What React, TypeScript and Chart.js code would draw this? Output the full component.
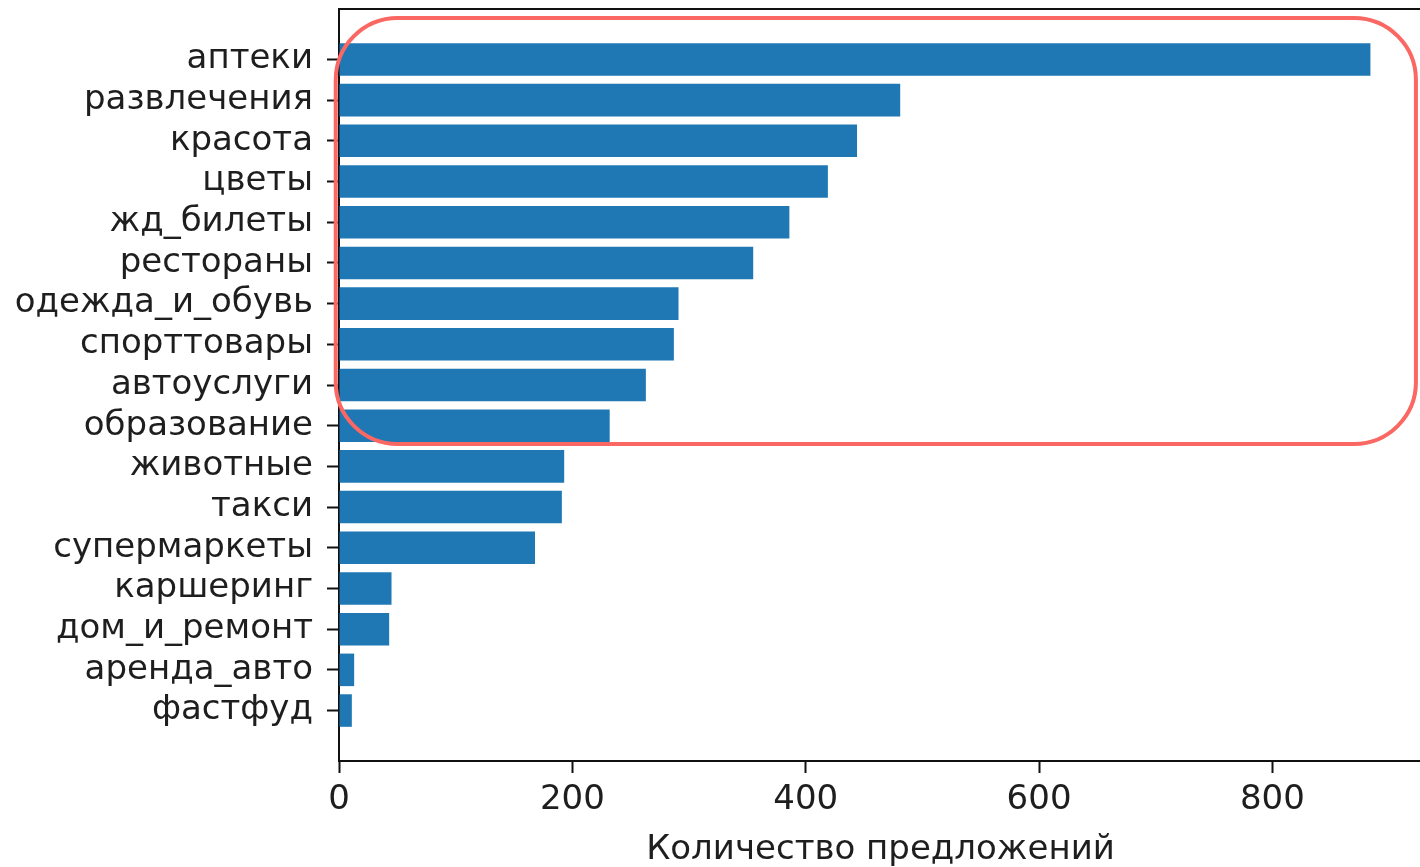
import React, { useEffect, useRef } from "react";
import { Chart, registerables } from "chart.js";

Chart.register(...registerables);

const categories: string[] = [
  "аптеки",
  "развлечения",
  "красота",
  "цветы",
  "жд_билеты",
  "рестораны",
  "одежда_и_обувь",
  "спорттовары",
  "автоуслуги",
  "образование",
  "животные",
  "такси",
  "супермаркеты",
  "каршеринг",
  "дом_и_ремонт",
  "аренда_авто",
  "фастфуд",
];

const counts: number[] = [884, 481, 444, 419, 386, 355, 291, 287, 263, 232, 193, 191, 168, 45, 43, 13, 11];

const xTicks: number[] = [0, 200, 400, 600, 800];
const xTitle = "Количество предложений";

// highlight box (in data units): x from..to, y index from..to
const highlightX: number[] = [-2.8, 923];
const highlightY: number[] = [-1.02, 9.45];

const FONT = "'DejaVu Sans', sans-serif";
const TEXT = "#1e1e1e";

export default function App() {
  const ref = useRef<HTMLCanvasElement | null>(null);

  useEffect(() => {
    const canvas = ref.current;
    if (!canvas) return;
    document.body.style.margin = "0";
    document.body.style.overflow = "hidden";

    const n = categories.length;
    const xMax = Math.max(...counts) * 1.05;
    const yPad = 0.05 * (n - 1 + 0.8);

    const framePlugin = {
      id: "frame",
      afterDatasetsDraw(chart: any) {
        const { ctx, chartArea } = chart;
        ctx.save();
        ctx.strokeStyle = "#111";
        ctx.lineWidth = 2;
        ctx.beginPath();
        ctx.moveTo(chartArea.left, chartArea.top);
        ctx.lineTo(chartArea.right, chartArea.top);
        ctx.lineTo(chartArea.right, chartArea.bottom);
        ctx.stroke();
        ctx.restore();
      },
      afterDraw(chart: any) {
        const { ctx } = chart;
        const xs = chart.scales.x;
        const ys = chart.scales.y;
        const x0 = xs.getPixelForValue(highlightX[0]);
        const x1 = xs.getPixelForValue(highlightX[1]);
        const y0 = ys.getPixelForValue(highlightY[0]);
        const y1 = ys.getPixelForValue(highlightY[1]);
        ctx.save();
        ctx.strokeStyle = "#fb6762";
        ctx.lineWidth = 4;
        ctx.beginPath();
        (ctx as any).roundRect(x0, y0, x1 - x0, y1 - y0, 62);
        ctx.stroke();
        ctx.restore();
      },
    };

    const chart = new Chart(canvas, {
      type: "bar",
      data: {
        datasets: [
          {
            data: counts.map((v, i) => ({ x: v, y: i })),
            backgroundColor: "#1f77b4",
            borderWidth: 0,
            barPercentage: 0.8,
            categoryPercentage: 1,
          },
        ],
      },
      options: {
        indexAxis: "y",
        responsive: false,
        animation: false,
        layout: { padding: { left: 0, top: 9, right: 18, bottom: 0 } },
        plugins: {
          legend: { display: false },
          tooltip: { enabled: false },
        },
        scales: {
          x: {
            type: "linear",
            min: 0,
            max: xMax,
            offset: false,
            afterBuildTicks: (s: any) => {
              s.ticks = xTicks.map((v) => ({ value: v }));
            },
            afterFit: (s: any) => {
              s.height = 106;
              s.paddingLeft = 0;
              s.paddingRight = 0;
            },
            grid: {
              offset: false,
              drawOnChartArea: false,
              drawTicks: true,
              tickLength: 12,
              tickWidth: 2,
              tickColor: "#111",
            },
            border: { display: true, color: "#111", width: 2 },
            ticks: {
              color: TEXT,
              font: { family: FONT, size: 34 },
              padding: 7,
              maxRotation: 0,
              callback: (v: any) => String(v),
            },
            title: {
              display: true,
              text: xTitle,
              color: TEXT,
              font: { family: FONT, size: 34 },
              padding: { top: 0, bottom: -4 },
            },
          },
          y: {
            type: "linear",
            reverse: true,
            offset: false,
            min: -0.4 - yPad,
            max: n - 1 + 0.4 + yPad,
            afterBuildTicks: (s: any) => {
              s.ticks = categories.map((_, i) => ({ value: i }));
            },
            afterFit: (s: any) => {
              s.width = 339;
              s.paddingTop = 0;
              s.paddingBottom = 0;
            },
            grid: {
              offset: false,
              drawOnChartArea: false,
              drawTicks: true,
              tickLength: 12,
              tickWidth: 2,
              tickColor: "#111",
            },
            border: { display: true, color: "#111", width: 2 },
            ticks: {
              color: TEXT,
              font: { family: FONT, size: 34 },
              padding: 14,
              autoSkip: false,
              callback: (v: any) => categories[Math.round(Number(v))] ?? "",
            },
          },
        },
      },
      plugins: [framePlugin],
    } as any);

    return () => chart.destroy();
  }, []);

  return (
    <div style={{ position: "fixed", left: 0, top: 0, width: 1420, height: 867, overflow: "hidden", background: "#fff" }}>
      <canvas ref={ref} width={1440} height={867} style={{ display: "block", width: 1440, height: 867 }} />
    </div>
  );
}
